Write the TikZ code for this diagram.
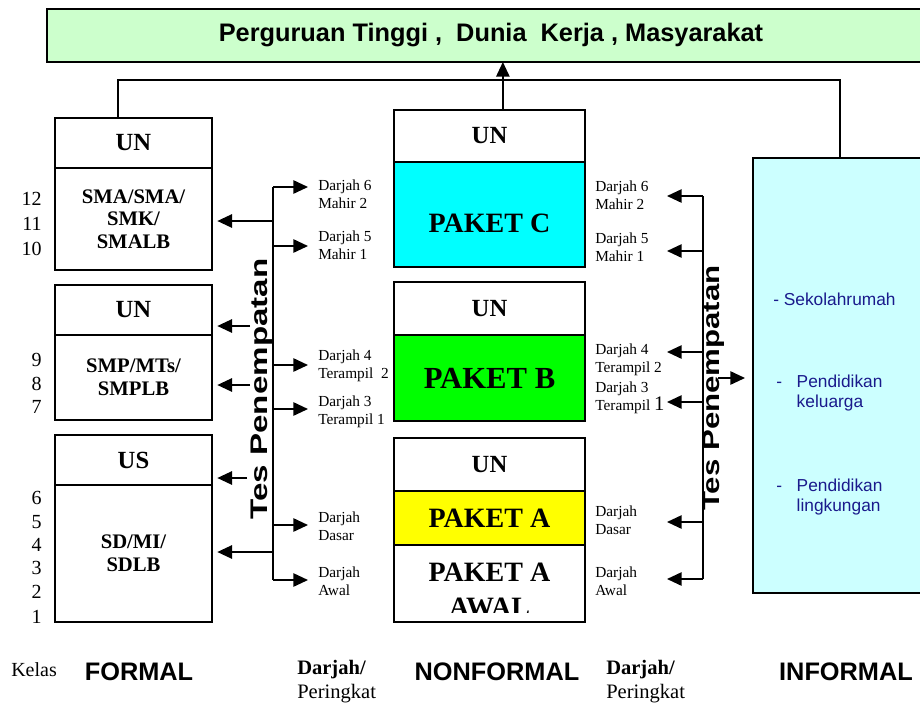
\documentclass[tikz,border=0pt]{standalone}
\usepackage{fontspec}
\setmainfont{Liberation Serif}
\setsansfont{Liberation Sans}
\usepackage{tikz}
\usetikzlibrary{arrows.meta, calc, positioning}
\definecolor{hijaumuda}{RGB}{204,255,204}
\definecolor{birumuda}{RGB}{204,255,255}
\definecolor{sian}{RGB}{0,255,255}
\definecolor{hijau}{RGB}{0,255,0}
\definecolor{kuning}{RGB}{255,255,0}
\definecolor{tinta}{RGB}{26,26,140}
\tikzstyle{kotak} = [rectangle, draw=black, line width=1.3pt, inner sep=0pt, outer sep=0pt, align=center, font=\bfseries]
\tikzstyle{un} = [kotak, font=\bfseries\fontsize{18.5}{20}\selectfont]
\tikzstyle{sekolah} = [kotak, font=\bfseries\fontsize{15.5}{17}\selectfont]
\tikzstyle{paket} = [kotak, font=\bfseries\fontsize{21}{26}\selectfont]
\tikzstyle{formal} = [minimum width=117.75pt]
\tikzstyle{nonformal} = [minimum width=143.25pt]
\tikzstyle{arrow} = [line width=1.3pt, -{Triangle[length=11pt, width=10pt]}]
\tikzstyle{garis} = [line width=1.3pt]
\tikzstyle{darjah} = [anchor=west, align=left, inner sep=0pt, font=\fontsize{11.5}{13.5}\selectfont]
\tikzstyle{tes} = [rotate=90, inner sep=0pt, font=\sffamily\bfseries\fontsize{18}{18}\selectfont]
\tikzstyle{judul} = [inner sep=0pt, font=\sffamily\bfseries\fontsize{19}{19}\selectfont]
\tikzstyle{info} = [anchor=west, align=left, inner sep=0pt, text=tinta, font=\sffamily\fontsize{13}{15}\selectfont]
\tikzstyle{peringkat} = [anchor=west, align=left, inner sep=0pt, font=\fontsize{15.4}{18}\selectfont]

\begin{document}
\begin{tikzpicture}[x=0.75pt, y=-0.75pt]
	\useasboundingbox (0,0) rectangle (920,704);
	% tujuan
	\node (Tujuan) [kotak, judul, fill=hijaumuda, minimum width=666pt, minimum height=39.75pt] at (491,35.5) {Perguruan Tinggi ,\ \ Dunia\ \ Kerja , Masyarakat};
	% formal
	\node (FUN1) [un, formal, minimum height=37.5pt] at (133.5,143) {UN};
	\node (FSMA) [sekolah, formal, below=0pt of FUN1, minimum height=76.5pt] {SMA/SMA/\\SMK/\\SMALB};
	\node (FUN2) [un, formal, minimum height=37.5pt] at (133.5,310) {UN};
	\node (FSMP) [sekolah, formal, below=0pt of FUN2, minimum height=63.75pt] {SMP/MTs/\\SMPLB};
	\node (FUS) [un, formal, minimum height=37.5pt] at (133.5,460) {US};
	\node (FSD) [sekolah, formal, below=0pt of FUS, minimum height=102.75pt] {SD/MI/\\SDLB};
	\foreach \n/\y in {12/199, 11/224, 10/249, 9/360, 8/384, 7/407, 6/498, 5/522, 4/545, 3/568, 2/592, 1/617}
		\node (kelas\n) [anchor=east, inner sep=0pt, font=\fontsize{15}{15}\selectfont] at (42,\y) {\n};
	% nonformal
	\node (NUNC) [un, nonformal, minimum height=39pt] at (489.5,136) {UN};
	\node (NPC) [paket, nonformal, fill=sian, below=0pt of NUNC, minimum height=78.75pt, text height=27pt] {PAKET C};
	\node (NUNB) [un, nonformal, minimum height=39.75pt] at (489.5,308.5) {UN};
	\node (NPB) [paket, nonformal, fill=hijau, below=0pt of NUNB, minimum height=64.5pt, font=\bfseries\fontsize{23}{26}\selectfont] {PAKET B};
	\node (NUNA) [un, nonformal, minimum height=39.75pt] at (489.5,464.5) {UN};
	\node (NPA) [paket, nonformal, fill=kuning, below=0pt of NUNA, minimum height=40.5pt] {PAKET A};
	\node (NPAW) [kotak, nonformal, below=0pt of NPA, minimum height=57.75pt] {};
	\begin{scope}
		\clip (NPAW.north west) rectangle ($(NPAW.south east)+(0,-10)$);
		\node (NPAWteks) [paket, draw=none] at (489.5,590) {PAKET A\\AWAL};
	\end{scope}
	% informal
	\node (Informal) [kotak, fill=birumuda, minimum width=136.5pt, minimum height=326.25pt] at (844,375.5) {};
	\node (inf1) [info] at (773,299) {- Sekolahrumah};
	\node (inf2) [info] at (776,393) {-\hspace{11pt}Pendidikan\\\hphantom{-\hspace{11pt}}keluarga};
	\node (inf3) [info] at (776,497) {-\hspace{11pt}Pendidikan\\\hphantom{-\hspace{11pt}}lingkungan};
	% hubungan ke atas
	\coordinate (kiri) at ($(FUN1.north west)!0.4!(FUN1.north east)$);
	\coordinate (kanan) at ($(Informal.north west)!0.478!(Informal.north east)$);
	\coordinate (tengah) at ($(NUNC.north west)!0.57!(NUNC.north east)$);
	\coordinate (rel) at (503,80);
	\draw [garis] (kiri) |- (rel) -| (kanan);
	\draw [arrow] (tengah) -- (tengah |- Tujuan.south);
	% tes penempatan kiri
	\node (TesKiri) [tes] at (262,389) {\scalebox{1.38}[1]{Tes Penempatan}};
	\foreach \i/\y in {1/187, 2/246, 3/365, 4/409, 5/525, 6/580} {
		\coordinate (lt\i) at (273,\y);
		\coordinate (ltip\i) at (308,\y);
		\draw [arrow] (lt\i) -- (ltip\i);
	}
	\draw [garis] (lt1) -- (lt6);
	\coordinate (lsma) at (273,221);
	\coordinate (lun2) at (250,326);
	\coordinate (lsmp) at (250,385);
	\coordinate (lus) at (247,478);
	\coordinate (lsd) at (273,552);
	\draw [arrow, shorten >=4pt] (lsma) -- (lsma -| FSMA.east);
	\draw [arrow, shorten >=4pt] (lun2) -- (lun2 -| FUN2.east);
	\draw [arrow, shorten >=4pt] (lsmp) -- (lsmp -| FSMP.east);
	\draw [arrow, shorten >=4pt] (lus) -- (lus -| FUS.east);
	\draw [arrow, shorten >=4pt] (lsd) -- (lsd -| FSD.east);
	\node (LD6) [darjah] at (318,194) {Darjah 6\\Mahir 2};
	\node (LD5) [darjah] at (318,245) {Darjah 5\\Mahir 1};
	\node (LD4) [darjah] at (318,366) {Darjah 4\\Terampil\ \ 2};
	\node (LD3) [darjah] at (318,412) {Darjah 3\\Terampil 1};
	\node (LDD) [darjah] at (318,526) {Darjah\\Dasar};
	\node (LDA) [darjah] at (318,581) {Darjah\\Awal};
	% tes penempatan kanan
	\node (TesKanan) [tes] at (714,388) {\scalebox{1.3}[1]{Tes Penempatan}};
	\foreach \i/\y in {1/196, 2/251, 3/352, 4/402, 5/522, 6/579} {
		\coordinate (rt\i) at (703,\y);
		\coordinate (rtip\i) at (667,\y);
		\draw [arrow] (rt\i) -- (rtip\i);
	}
	\draw [garis] (rt1) -- (rt6);
	\coordinate (rinf) at (718,378);
	\draw [arrow, shorten >=6pt] (rinf) -- (rinf -| Informal.west);
	\node (RD6) [darjah] at (595,195) {Darjah 6\\Mahir 2};
	\node (RD5) [darjah] at (595,247) {Darjah 5\\Mahir 1};
	\node (RD4) [darjah] at (595,360) {Darjah 4\\Terampil 2};
	\node (RD3) [darjah] at (595,398) {Darjah 3\\Terampil {\fontsize{15.5}{15.5}\selectfont 1}};
	\node (RDD) [darjah] at (595,520) {Darjah\\Dasar};
	\node (RDA) [darjah] at (595,581) {Darjah\\Awal};
	% keterangan bawah
	\node (Kelas) [anchor=west, inner sep=0pt, font=\fontsize{15}{15}\selectfont] at (11,670) {Kelas};
	\node (Formal) [judul] at (139,672) {FORMAL};
	\node (PeringkatKiri) [peringkat] at (297,682) {\textbf{Darjah/}\\Peringkat};
	\node (Nonformal) [judul] at (497,672) {NONFORMAL};
	\node (PeringkatKanan) [peringkat] at (606,682) {\textbf{Darjah/}\\Peringkat};
	\node (InformalLabel) [judul] at (846,672) {INFORMAL};
\end{tikzpicture}
\end{document}
